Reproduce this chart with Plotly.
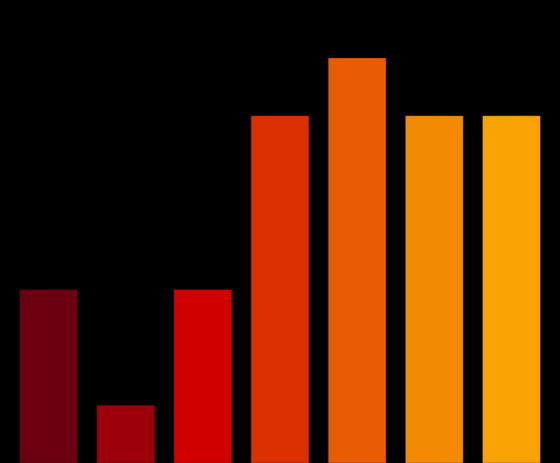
import plotly.graph_objects as go

categories = ["A", "B", "C", "D", "E", "F", "G"]
values = [3, 1, 3, 6, 7, 6, 6]
colors = ["#6d0010", "#9c000a", "#d10000", "#dc3000", "#e85c03", "#f28a04", "#f9a204"]

fig = go.Figure()
fig.add_trace(go.Bar(
    x=categories,
    y=values,
    marker_color=colors,
    marker_line=dict(color="rgba(0,0,0,0.35)", width=0.7),
))
fig.update_layout(
    width=560, height=463,
    margin=dict(l=10, r=10, t=0, b=0),
    paper_bgcolor="black",
    plot_bgcolor="black",
    bargap=0.25,
    showlegend=False,
)
fig.update_xaxes(visible=False, range=[-0.5, 6.5])
fig.update_yaxes(visible=False, range=[0, 8])

# drop the page's default white body margin
fig.write_html("out.html",
               config={"displayModeBar": False},
               post_script="document.body.style.margin='0';"
                           "document.body.style.background='black';")
